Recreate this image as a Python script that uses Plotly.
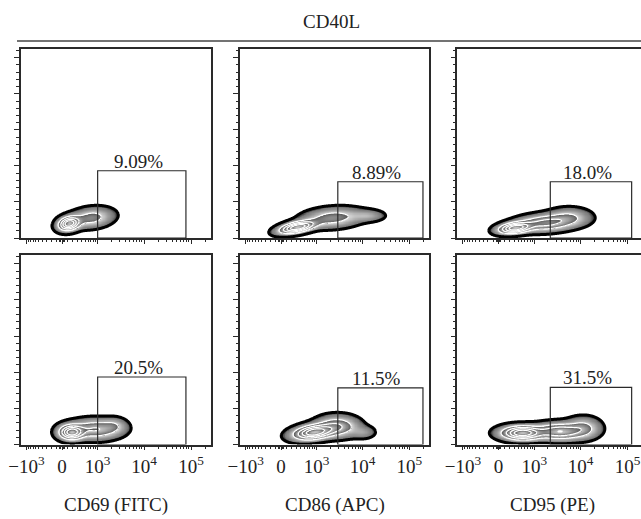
import numpy as np
import plotly.graph_objects as go

# ---------------- data ----------------
panel_titles = ["CD69 (FITC)", "CD86 (APC)", "CD95 (PE)"]
header = "CD40L"

x_tick_values = [-1000, 0, 1000, 10000, 100000]
x_tick_labels = ["−10<sup>3</sup>", "0", "10<sup>3</sup>", "10<sup>4</sup>", "10<sup>5</sup>"]
x_minor_values = ([-v for v in range(100, 1000, 100)] + [-40, -20, 20, 40] +
                  list(range(100, 1000, 100)) + list(range(2000, 10000, 1000)) +
                  list(range(20000, 100000, 10000)) + [200000])
y_major_values = [0, 50000, 100000, 150000, 200000, 250000]
y_minor_values = list(range(0, 262144, 10000))

# gate per panel (row-major: top row then bottom row)
gate_x0 = [1000, 2930, 2250, 1000, 2930, 2250]
gate_x1 = [78000, 195000, 122000, 78000, 195000, 122000]
gate_y1 = [93300, 78000, 78000, 93400, 78400, 79000]
gate_pct = ["9.09%", "8.89%", "18.0%", "20.5%", "11.5%", "31.5%"]

# population components per panel (logicle display units on x, linear on y)
comp_cx = [[0.15, 0.62], [0.35, 1.10, 1.85], [0.35, 1.00, 1.50],
           [0.20, 0.70, 1.10], [0.70, 1.20, 1.75], [0.50, 1.30, 1.80]]
comp_cy = [[20000, 28000], [15000, 28000, 31000], [14000, 21000, 29000],
           [17000, 21000, 26000], [17000, 25000, 17000], [16000, 18000, 23000]]
comp_sx = [[0.13, 0.25], [0.22, 0.35, 0.20], [0.20, 0.35, 0.25],
           [0.15, 0.30, 0.15], [0.25, 0.25, 0.15], [0.25, 0.30, 0.20]]
comp_sy = [[5500, 7500], [5000, 7500, 4500], [4500, 6500, 7000],
           [5800, 7500, 6000], [6000, 8000, 5000], [5500, 6500, 8000]]
comp_rho = [[0.2, 0.2], [0.5, 0.2, 0.0], [0.3, 0.2, 0.0],
            [0.0, 0.0, 0.0], [0.3, 0.0, 0.0], [0.0, 0.0, 0.0]]
comp_w = [[1.0, 0.30], [1.0, 0.30, 0.12], [1.0, 0.50, 0.20],
          [1.0, 0.45, 0.15], [1.0, 0.40, 0.10], [1.0, 0.60, 0.25]]

# contour levels (fraction of peak density)
outer_level = 0.02
inner_levels = [0.2, 0.4, 0.6, 0.8]

# ---------------- helpers ----------------
W = 180.0
def T(v):
    return np.arcsinh(np.asarray(v, dtype=float) / (2 * W)) / np.log(10)

FONT = "Liberation Serif"
LINE = "#2a2a2a"
W_PX, H_PX = 641, 519

col_dom = [[20.7 / W_PX, 210.7 / W_PX], [240 / W_PX, 429 / W_PX], [457.3 / W_PX, 1.0]]
row_dom = [[1 - 238 / H_PX, 1 - 49 / H_PX], [1 - 444.5 / H_PX, 1 - 255 / H_PX]]
x_ranges = [[-0.879, 3.164], [-0.879, 3.164], [-0.879, 3.03]]
Y_MAX = 262144

levels = [outer_level] + inner_levels + [1.0]
span = 1.0 - outer_level
cs = []
for i in range(len(levels) - 1):
    a = (levels[i] - outer_level) / span
    b = (levels[i + 1] - outer_level) / span
    if i == 0:
        cs.append([a, "#000000"])
        cs.append([a + 0.04 * (b - a), "#3a3a3a"])
        cs.append([a + 0.15 * (b - a), "#7a7a7a"])
        cs.append([b - 1e-4, "#dadada"])
    else:
        cs.append([a, "#555555"])
        cs.append([b - 1e-4 if i < len(levels) - 2 else b, "#c2c2c2"])

fig = go.Figure()
layout = dict(width=W_PX, height=H_PX, margin=dict(l=0, r=0, t=0, b=0, autoexpand=False),
              paper_bgcolor="white", plot_bgcolor="white", showlegend=False,
              font=dict(family=FONT, color="#222", size=18))
shapes, annots = [], []

for p in range(6):
    r, c = divmod(p, 3)
    idx = p + 1
    xa = "x" if idx == 1 else f"x{idx}"
    ya = "y" if idx == 1 else f"y{idx}"
    xr = x_ranges[c]
    xs = np.linspace(xr[0], xr[1], 340)
    ys = np.linspace(0, Y_MAX, 340)
    X, Y = np.meshgrid(xs, ys)
    d = np.zeros_like(X)
    for cx, cy, sx, sy, rho, w in zip(comp_cx[p], comp_cy[p], comp_sx[p], comp_sy[p], comp_rho[p], comp_w[p]):
        u = (X - cx) / sx
        v = (Y - cy) / sy
        q = (u * u - 2 * rho * u * v + v * v) / (1 - rho * rho)
        d += w * np.exp(-0.5 * q)
    z = d / d.max()
    zh = np.where(z >= outer_level, z, np.nan)
    fig.add_trace(go.Heatmap(x=xs, y=ys, z=zh, zmin=outer_level, zmax=1.0, colorscale=cs,
                             showscale=False, zsmooth="best", hoverinfo="skip",
                             xaxis=xa, yaxis=ya))
    fig.add_trace(go.Contour(x=xs, y=ys, z=z, showscale=False, hoverinfo="skip",
                             contours=dict(start=inner_levels[0], end=inner_levels[-1],
                                           size=inner_levels[1] - inner_levels[0],
                                           coloring="none"),
                             line=dict(color="white", width=1.2), xaxis=xa, yaxis=ya))
    fig.add_trace(go.Contour(x=xs, y=ys, z=z, showscale=False, hoverinfo="skip",
                             contours=dict(type="constraint", operation=">=", value=outer_level),
                             fillcolor="rgba(0,0,0,0)",
                             line=dict(color="#000000", width=3), xaxis=xa, yaxis=ya))
    # gate
    gx0, gx1 = float(T(gate_x0[p])), float(T(gate_x1[p]))
    shapes.append(dict(type="rect", xref=xa, yref=ya, x0=gx0, x1=gx1, y0=0, y1=gate_y1[p],
                       line=dict(color=LINE, width=1.2), layer="above"))
    annots.append(dict(xref=xa, yref=ya, x=(gx0 + gx1) / 2 - 0.08, y=gate_y1[p], yanchor="bottom",
                       text=gate_pct[p], showarrow=False, font=dict(size=19, family=FONT, color="#222"),
                       yshift=-3))
    key_x = "xaxis" if idx == 1 else f"xaxis{idx}"
    key_y = "yaxis" if idx == 1 else f"yaxis{idx}"
    layout[key_x] = dict(domain=col_dom[c], range=xr, anchor=ya, showgrid=False, zeroline=False,
                         showline=True, linecolor=LINE, linewidth=1.5, mirror=True,
                         ticks="outside", ticklen=4, tickwidth=1, tickcolor=LINE,
                         tickmode="array", tickvals=[float(t) for t in T(x_tick_values)],
                         ticktext=x_tick_labels, showticklabels=(r == 1),
                         tickfont=dict(size=19, family=FONT, color="#222"),
                         minor=dict(tickmode="array", tickvals=[float(t) for t in T(x_minor_values)],
                                    ticks="outside", ticklen=2.5, tickwidth=1, tickcolor=LINE))
    layout[key_y] = dict(domain=row_dom[r], range=[0, Y_MAX], anchor=xa, showgrid=False, zeroline=False,
                         showline=True, linecolor=LINE, linewidth=1.5, mirror=(c != 2),
                         ticks="outside", ticklen=5, tickwidth=1, tickcolor=LINE,
                         tickmode="array", tickvals=y_major_values, showticklabels=False,
                         minor=dict(tickmode="array", tickvals=y_minor_values,
                                    ticks="outside", ticklen=2.5, tickwidth=1, tickcolor=LINE))

# header and rule
annots.append(dict(xref="paper", yref="paper", x=331 / W_PX, y=1 - 22 / H_PX, text=header,
                   showarrow=False, xanchor="center", yanchor="middle",
                   font=dict(size=19, family=FONT, color="#222")))
shapes.append(dict(type="line", xref="paper", yref="paper", x0=17 / W_PX, x1=1.0,
                   y0=1 - 41 / H_PX, y1=1 - 41 / H_PX, line=dict(color="#444", width=1.5)))
for c in range(3):
    cx = (col_dom[c][0] + (col_dom[c][0] + 190 / W_PX)) / 2
    annots.append(dict(xref="paper", yref="paper", x=cx, y=1 - 505 / H_PX, text=panel_titles[c],
                       showarrow=False, xanchor="center", yanchor="middle",
                       font=dict(size=19, family=FONT, color="#222")))

layout["shapes"] = shapes
layout["annotations"] = annots
fig.update_layout(**layout)
fig.write_html("out.html", config={"displayModeBar": False},
               post_script="document.body.style.margin='0';document.body.style.padding='0';"
                           "document.documentElement.style.overflow='hidden';")
